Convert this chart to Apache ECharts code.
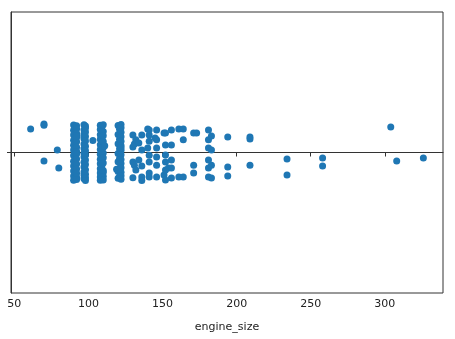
<!DOCTYPE html>
<html>
<head>
<meta charset="utf-8">
<script src="https://cdn.jsdelivr.net/npm/echarts@6/dist/echarts.min.js"></script>
<style>
  html, body { margin: 0; padding: 0; background: #fff; }
  #chart { width: 455px; height: 339px; }
</style>
</head>
<body>
<div id="chart"></div>
<script>
// engine_size values seen in the strip, and the jitter of each dot (category units)
const sizes = [61, 70, 79, 80, 90, 91, 92, 97, 98, 103, 108, 109, 110, 111, 119, 120, 121, 122,
  130, 131, 132, 134, 136, 140, 141, 145, 146, 151, 152, 154, 156, 161, 164, 171, 173, 181, 183,
  194, 209, 234, 258, 304, 308, 326];
const jitter = [
  [-0.084],
  [-0.101, -0.097, 0.030],
  [-0.009],
  [0.055],
  [-0.098, -0.079, -0.062, -0.044, -0.026, -0.009, 0.011, 0.031, 0.048, 0.066, 0.084, 0.099],
  [-0.089, -0.036, 0.019, 0.057, 0.091],
  [-0.095, -0.084, -0.068, -0.053, -0.038, -0.019, -0.004, 0.005, 0.023, 0.041, 0.059, 0.074, 0.088, 0.096, -0.060],
  [-0.099, -0.081, -0.066, -0.049, -0.030, -0.014, 0.003, 0.016, 0.035, 0.052, 0.069, 0.080, 0.093, -0.058],
  [-0.094, -0.073, -0.057, -0.041, -0.022, -0.006, 0.009, 0.027, 0.043, 0.061, 0.077, 0.090, 0.100, -0.087],
  [-0.043],
  [-0.097, -0.082, -0.063, -0.047, -0.028, -0.011, 0.006, 0.024, 0.040, 0.058, 0.073, 0.087, 0.099],
  [-0.090, -0.055, -0.034, -0.002, 0.030, 0.051, 0.079, 0.094],
  [-0.099, -0.075, -0.060, -0.039, -0.018, 0.002, 0.019, 0.037, 0.064, 0.071, 0.085, 0.098],
  [-0.024],
  [0.060],
  [-0.096, -0.064, -0.031, 0.004, 0.033, 0.068, 0.092],
  [-0.083, -0.047, -0.013, 0.021, 0.055, 0.086],
  [-0.100, -0.088, -0.072, -0.056, -0.040, -0.025, -0.008, 0.008, 0.025, 0.039, 0.054, 0.070, 0.083, 0.095, -0.017],
  [-0.062, -0.020, 0.034, 0.090],
  [0.045, -0.030],
  [0.062, -0.045],
  [-0.034, 0.027],
  [-0.062, 0.087, 0.100, -0.009, 0.048],
  [-0.016, -0.084],
  [-0.062, 0.034, 0.073, -0.040, 0.010, 0.087, -0.080],
  [-0.052],
  [-0.016, 0.045, 0.087, -0.080, 0.016, -0.045],
  [0.080, -0.069],
  [-0.069, 0.034, 0.009, 0.062, -0.027, 0.098],
  [0.055],
  [0.055, 0.091, -0.080, -0.027, 0.027],
  [-0.084, 0.087],
  [-0.084, -0.045, 0.087],
  [0.045, 0.073, -0.069],
  [-0.069],
  [-0.080, -0.045, -0.016, 0.027, 0.055, 0.087],
  [0.091, -0.009, -0.059, 0.045],
  [-0.055, 0.052, 0.084],
  [-0.055, -0.048, 0.045],
  [0.023, 0.080],
  [0.020, 0.048],
  [-0.091],
  [0.030],
  [0.020]
];
const xTicks = [50, 100, 150, 200, 250, 300];

// one dot per car: [engine_size, jitter]
const points = [];
sizes.forEach((v, i) => {
  jitter[i].forEach(j => points.push([v, j]));
});

const chart = echarts.init(document.getElementById('chart'));
chart.setOption({
  animation: false,
  grid: {
    left: 11, right: 12, top: 12, bottom: 46,
    show: true, borderColor: '#333', borderWidth: 1
  },
  xAxis: {
    type: 'value',
    min: 47.75,
    max: 339.25,
    name: 'engine_size',
    nameLocation: 'middle',
    nameGap: 29,
    nameTextStyle: { color: '#222', fontSize: 11, fontFamily: 'DejaVu Sans' },
    axisLine: { show: true, lineStyle: { color: '#333' } },
    axisTick: { show: true, length: 4, customValues: xTicks, lineStyle: { color: '#333' } },
    axisLabel: { customValues: xTicks, color: '#222', fontSize: 11, fontFamily: 'DejaVu Sans', margin: 6 },
    splitLine: { show: false }
  },
  yAxis: {
    type: 'value',
    min: -0.5,
    max: 0.5,
    inverse: true,
    axisLine: { show: true, lineStyle: { color: '#333' } },
    axisTick: { show: true, length: 4, customValues: [0], lineStyle: { color: '#333' } },
    axisLabel: { show: false },
    splitLine: { show: false }
  },
  series: [{
    type: 'scatter',
    data: points,
    symbolSize: 7,
    itemStyle: { color: '#1f77b4', opacity: 1 }
  }]
});
</script>
</body>
</html>
